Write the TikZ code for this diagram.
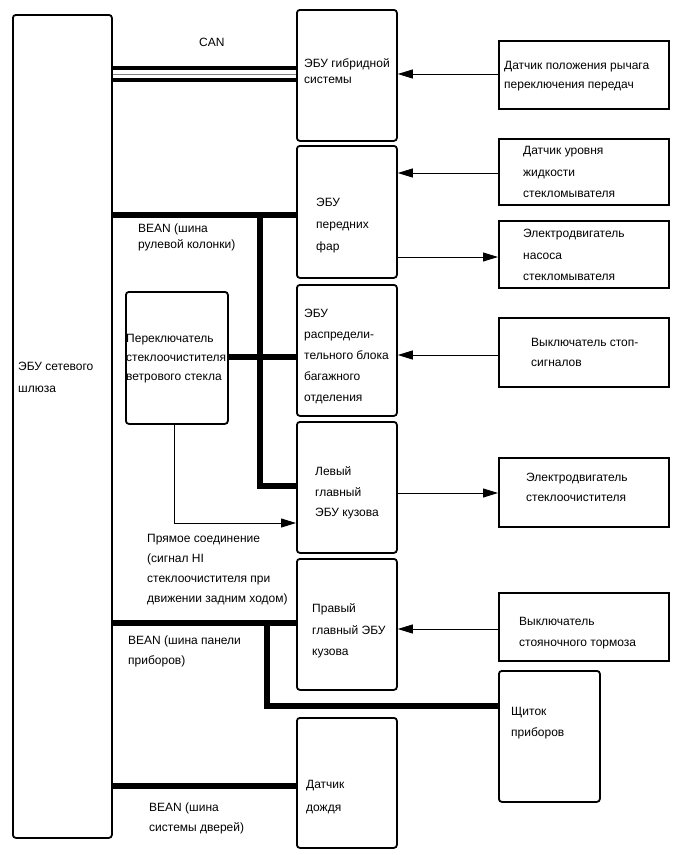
\documentclass[tikz,border=0pt]{standalone}
\usepackage{fontspec}
\setmainfont{Liberation Sans}
\usetikzlibrary{arrows.meta}
\begin{document}
\begin{tikzpicture}[x=1pt,y=-1pt,
  ecu/.style={draw, line width=1.8pt, rounded corners=3pt, inner sep=0pt, anchor=north west},
  dev/.style={draw, line width=1.8pt, inner sep=0pt, anchor=north west},
  lab/.style={font=\fontsize{12}{#1}\selectfont, align=left, anchor=west, inner sep=0pt},
  lab/.default=21,
  bus/.style={line width=6pt},
  canl/.style={line width=4pt},
  sig/.style={line width=1pt, -{Triangle[length=15pt,width=9pt]}}]
\useasboundingbox (0,0) rectangle (690,855);
\fill[white] (0,0) rectangle (690,855);

% boxes
\node[ecu, minimum width=99pt, minimum height=823pt] (gw) at (12,14) {};
\node[ecu, minimum width=100pt, minimum height=131pt] (b1) at (296,9) {};
\node[ecu, minimum width=100pt, minimum height=132pt] (b2) at (296,145) {};
\node[ecu, minimum width=100pt, minimum height=131pt] (b3) at (296,284) {};
\node[ecu, minimum width=100pt, minimum height=131pt] (b4) at (296,421) {};
\node[ecu, minimum width=100pt, minimum height=131pt] (b5) at (296,558) {};
\node[ecu, minimum width=100pt, minimum height=130pt] (b6) at (296,717) {};
\node[ecu, minimum width=102pt, minimum height=132pt] (sw) at (125,291) {};
\node[ecu, minimum width=101pt, minimum height=131pt] (ip) at (498,670) {};
\node[dev, minimum width=170pt, minimum height=68pt] (r1) at (498,40) {};
\node[dev, minimum width=170pt, minimum height=66pt] (r2) at (498,138) {};
\node[dev, minimum width=170pt, minimum height=67pt] (r3) at (498,220) {};
\node[dev, minimum width=170pt, minimum height=69pt] (r4) at (498,317) {};
\node[dev, minimum width=170pt, minimum height=69pt] (r5) at (498,457) {};
\node[dev, minimum width=170pt, minimum height=68pt] (r6) at (498,592) {};

% texts
\node[lab=22] (gwt) at (18,377) {\strut ЭБУ сетевого\\\strut шлюза};
\node[lab] (cant) at (199,42) {\strut CAN};
\node[lab=16] (b1t) at (304,72) {\strut ЭБУ гибридной\\\strut системы};
\node[lab=22] (b2t) at (316,224) {\strut ЭБУ\\\strut передних\\\strut фар};
\node[lab=21] (b3t) at (304,355) {\strut ЭБУ\\\strut распредели-\\\strut тельного блока\\\strut багажного\\\strut отделения};
\node[lab=20.5] (b4t) at (315,492) {\strut Левый\\\strut главный\\\strut ЭБУ кузова};
\node[lab=21.5] (b5t) at (312,630) {\strut Правый\\\strut главный ЭБУ\\\strut кузова};
\node[lab=23] (b6t) at (306,795) {\strut Датчик\\\strut дождя};
\node[lab=19] (swt) at (126,358) {\strut Переключатель\\\strut стеклоочистителя\\\strut ветрового стекла};
\node[lab=16] (bean1) at (138,237) {\strut BEAN (шина\\\strut рулевой колонки)};
\node[lab=20] (direct) at (147,568) {\strut Прямое соединение\\\strut (сигнал HI\\\strut стеклоочистителя при\\\strut движении задним ходом)};
\node[lab=20] (bean2) at (128,650) {\strut BEAN (шина панели\\\strut приборов)};
\node[lab=20] (bean3) at (149,817) {\strut BEAN (шина\\\strut системы дверей)};
\node[lab=19] (r1t) at (504,75.5) {\strut Датчик положения рычага\\\strut переключения передач};
\node[lab=21.5] (r2t) at (523,172) {\strut Датчик уровня\\\strut жидкости\\\strut стекломывателя};
\node[lab=21.5] (r3t) at (523,255) {\strut Электродвигатель\\\strut насоса\\\strut стекломывателя};
\node[lab=20] (r4t) at (531,352) {\strut Выключатель стоп-\\\strut сигналов};
\node[lab=20] (r5t) at (526,487) {\strut Электродвигатель\\\strut стеклоочистителя};
\node[lab=21] (r6t) at (519,631.5) {\strut Выключатель\\\strut стояночного тормоза};
\node[lab=21] (ipt) at (511,721.5) {\strut Щиток\\\strut приборов};

% CAN
\coordinate (c1) at (0,68);
\coordinate (c2) at (0,74);
\coordinate (c3) at (0,79.5);
\draw[canl] (gw.east |- c1) -- (b1.west |- c1);
\draw[canl] (gw.east |- c3) -- (b1.west |- c3);
\draw[gray, line width=0.8pt] (gw.east |- c2) -- (b1.west |- c2);

% BEAN steering column
\coordinate (j1) at (260,215);
\coordinate (j2) at (260,485.5);
\coordinate (j3) at (0,357);
\draw[bus] (gw.east |- j1) -- (b2.west |- j1);
\draw[bus] (j1) -- (j2) -- (b4.west |- j2);
\draw[bus] (sw.east |- j3) -- (b3.west |- j3);

% direct connection
\coordinate (dc) at (174,523);
\draw[sig] (sw.south -| dc) -- (dc) -- (b4.west |- dc);

% BEAN instrument panel
\coordinate (k1) at (267,623);
\coordinate (k2) at (267,706);
\draw[bus] (gw.east |- k1) -- (b5.west |- k1);
\draw[bus] (k1) -- (k2) -- (ip.west |- k2);

% BEAN door
\coordinate (d1) at (0,786);
\draw[bus] (gw.east |- d1) -- (b6.west |- d1);

% signal arrows
\coordinate (s1) at (0,74);
\coordinate (s2) at (0,173);
\coordinate (s3) at (0,257);
\coordinate (s4) at (0,355);
\coordinate (s5) at (0,493);
\coordinate (s6) at (0,629);
\draw[sig] (r1.west |- s1) -- (b1.east |- s1);
\draw[sig] (r2.west |- s2) -- (b2.east |- s2);
\draw[sig] (b2.east |- s3) -- (r3.west |- s3);
\draw[sig] (r4.west |- s4) -- (b3.east |- s4);
\draw[sig] (b4.east |- s5) -- (r5.west |- s5);
\draw[sig] (r6.west |- s6) -- (b5.east |- s6);
\end{tikzpicture}
\end{document}
